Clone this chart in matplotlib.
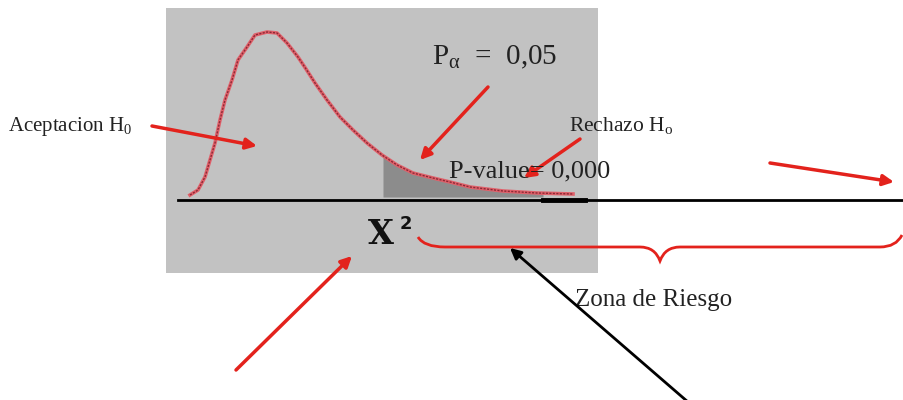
import numpy as np
import matplotlib.pyplot as plt
from matplotlib.path import Path
from matplotlib.patches import PathPatch, Rectangle

# Curve of the chi-square density (pixel coords)
curve_x = [190, 198, 205, 210, 215, 220, 225, 232, 238, 247, 255, 267, 277, 287,
           298, 306, 315, 327, 340, 353, 367, 382, 397, 413, 433, 450, 470,
           503, 537, 573]
curve_y = [195, 190, 177, 160, 143, 120, 100, 80, 60, 47, 35, 32, 33, 43,
           57, 69, 83, 100, 117, 130, 143, 155, 165, 173, 178, 182, 187,
           191, 193, 194]

# Shaded tail (rejection area) bounds
tail_start = 383
tail_end = 543

lbl_accept = 'Aceptacion H$_\\mathregular{0}$'
lbl_alpha = 'P$_{\\mathregular{\\alpha}}$  =  0,05'
lbl_reject = 'Rechazo H$_\\mathregular{o}$'
lbl_pvalue = 'P-value= 0,000'
lbl_zone = 'Zona de Riesgo'

red = '#e3221c'
serif = 'Liberation Serif'

fig = plt.figure(figsize=(9.04, 4.00), dpi=100)
ax = fig.add_axes([0, 0, 1, 1])
ax.set_xlim(0, 904)
ax.set_ylim(400, 0)
ax.axis('off')

# gray panel
ax.add_patch(Rectangle((166, 8), 432, 265, facecolor='#c2c2c2', edgecolor='none', zorder=0))

# shaded tail
cx = np.array(curve_x, dtype=float)
cy = np.array(curve_y, dtype=float)
mask = (cx > tail_start) & (cx < tail_end)
tx = np.concatenate([[tail_start], cx[mask], [tail_end]])
ty = np.concatenate([[np.interp(tail_start, cx, cy)], cy[mask], [np.interp(tail_end, cx, cy)]])
ax.fill_between(tx, ty, 197, color='#8c8c8c', zorder=1, linewidth=0)

# density curve
ax.plot(cx, cy, color='#e0606a', lw=2.6, zorder=2, solid_joinstyle='round')
ax.plot(cx, cy, color='#8a2a35', lw=1.0, ls=(0, (1.5, 1)), zorder=3)

# axis line
ax.plot([178, 904], [200, 200], color='black', lw=2, zorder=3)
ax.plot([543, 585], [200, 200], color='black', lw=3.5, zorder=3)

# brace
verts = [(418, 237), (424, 247), (445, 247),
         (640, 247),
         (655, 247), (660, 261),
         (665, 247), (680, 247),
         (880, 247),
         (896, 247), (902, 235)]
codes = [Path.MOVETO, Path.CURVE3, Path.CURVE3,
         Path.LINETO,
         Path.CURVE3, Path.CURVE3,
         Path.CURVE3, Path.CURVE3,
         Path.LINETO,
         Path.CURVE3, Path.CURVE3]
ax.add_patch(PathPatch(Path(verts, codes), facecolor='none', edgecolor=red, lw=2, zorder=3))

# arrows
def arrow(x0, y0, x1, y1, color=red, lw=2.5):
    ax.annotate('', xy=(x1, y1), xytext=(x0, y0),
                arrowprops=dict(arrowstyle='-|>', color=color, lw=lw,
                                mutation_scale=16, shrinkA=0, shrinkB=0),
                zorder=4)

arrow(152, 126, 257, 146)
arrow(488, 87, 420, 160)
arrow(580, 139, 524, 178)
arrow(770, 163, 894, 182)
arrow(236, 370, 352, 256)
arrow(688, 402, 510, 248, color='black', lw=2)

# texts
ax.text(8, 127, lbl_accept, fontsize=15, family=serif, va='center', ha='left', color='#222222')
ax.text(432, 57, lbl_alpha, fontsize=21, family=serif, va='center', ha='left', color='#222222')
ax.text(569, 126, lbl_reject, fontsize=15.5, family=serif, va='center', ha='left', color='#222222')
ax.text(449, 171, lbl_pvalue, fontsize=19, family=serif, va='center', ha='left', color='#222222', zorder=5)
ax.text(575, 300, lbl_zone, fontsize=18, family=serif, va='center', ha='left', color='#222222')
ax.text(368, 235, 'X', fontsize=24, family='DejaVu Serif', weight='bold', va='center', ha='left', color='#111111')
ax.text(400, 224, '2', fontsize=13, family='DejaVu Sans', weight='bold', va='center', ha='left', color='#111111')

fig.savefig('out.png', dpi=100, facecolor='white')
